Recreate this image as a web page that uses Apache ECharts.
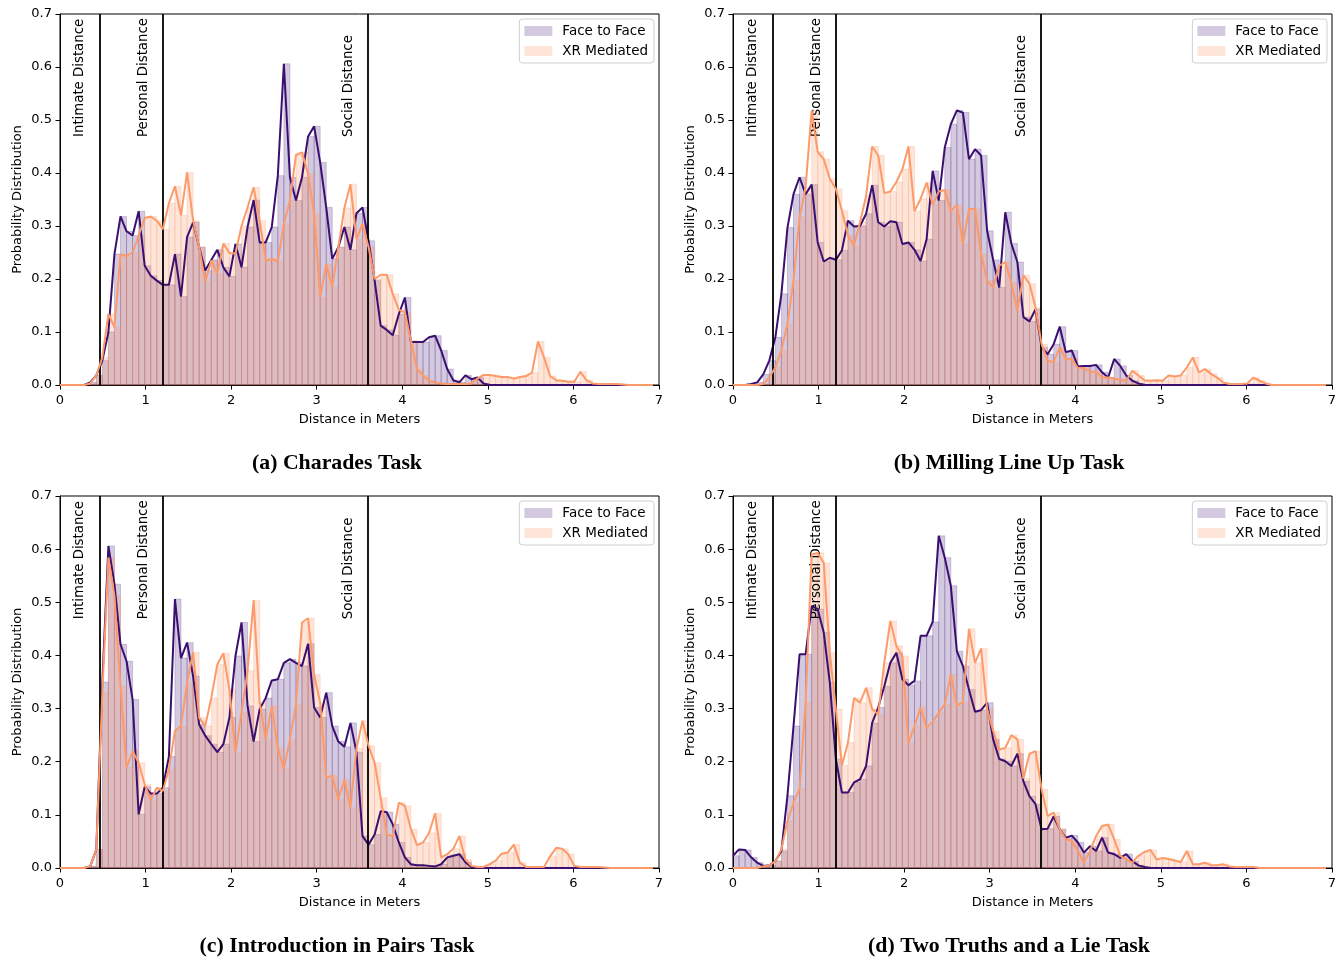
<!DOCTYPE html>
<html>
<head>
<meta charset="utf-8">
<script src="https://cdn.jsdelivr.net/npm/echarts@6/dist/echarts.min.js"></script>
<style>
html,body{margin:0;padding:0;background:#fff;}
#chart{width:1343px;height:960px;}
</style>
</head>
<body>
<div id="chart"></div>
<script>
// ---------------- data ----------------
const BIN_WIDTH = 7 / 99;            // histogram bin width (m)
const X_TICKS = [0, 1, 2, 3, 4, 5, 6, 7];
const Y_TICKS = [0.0, 0.1, 0.2, 0.3, 0.4, 0.5, 0.6, 0.7];
const ZONES = [0.46, 1.2, 3.6];
const ZONE_NAMES = ['Intimate Distance', 'Personal Distance', 'Social Distance'];
const SERIES_NAMES = ['Face to Face', 'XR Mediated'];
const TITLES = ['(a) Charades Task', '(b) Milling Line Up Task', '(c) Introduction in Pairs Task', '(d) Two Truths and a Lie Task'];

// values per bin (bin k starts at k * BIN_WIDTH)
const charadesF2F = [0,0,0,0,0,0.005,0.018,0.046,0.10,0.247,
  0.318,0.29,0.282,0.328,0.225,0.206,0.197,0.189,0.189,0.247,
  0.167,0.279,0.307,0.26,0.216,0.236,0.255,0.222,0.205,0.266,
  0.222,0.298,0.349,0.269,0.269,0.298,0.395,0.606,0.392,0.348,
  0.392,0.469,0.488,0.42,0.335,0.238,0.26,0.298,0.255,0.324,
  0.335,0.272,0.197,0.112,0.104,0.094,0.134,0.165,0.081,0.081,
  0.081,0.09,0.093,0.065,0.03,0.009,0.005,0.018,0.011,0.014,
  0.003,0,0,0,0,0,0,0,0,0,
  0,0,0,0,0,0,0,0,0,0,
  0,0,0,0,0,0,0,0,0];
const charadesXR = [0,0,0,0,0,0.003,0.018,0.052,0.134,0.109,
  0.247,0.243,0.25,0.282,0.315,0.318,0.31,0.294,0.343,0.375,
  0.32,0.401,0.31,0.26,0.195,0.235,0.21,0.267,0.249,0.248,
  0.30,0.335,0.373,0.31,0.235,0.238,0.233,0.304,0.348,0.434,
  0.439,0.398,0.323,0.165,0.228,0.185,0.26,0.334,0.379,0.275,
  0.304,0.26,0.2,0.208,0.208,0.172,0.142,0.137,0.084,0.03,
  0.018,0.008,0.005,0.003,0.002,0.002,0.002,0.002,0.003,0.012,
  0.019,0.019,0.017,0.015,0.015,0.012,0.015,0.017,0.023,0.082,
  0.052,0.017,0.009,0.008,0.006,0.006,0.025,0.009,0.003,0.002,
  0.002,0.002,0.002,0.001,0,0,0,0,0];
const millingF2F = [0,0,0,0.002,0.005,0.02,0.046,0.09,0.172,0.297,
  0.36,0.392,0.36,0.378,0.269,0.233,0.24,0.236,0.254,0.31,
  0.299,0.3,0.323,0.377,0.307,0.299,0.309,0.307,0.266,0.269,
  0.255,0.234,0.275,0.404,0.348,0.448,0.492,0.518,0.514,0.426,
  0.445,0.433,0.291,0.236,0.184,0.326,0.267,0.232,0.128,0.12,
  0.143,0.071,0.058,0.077,0.11,0.062,0.065,0.035,0.036,0.036,
  0.038,0.024,0.014,0.049,0.036,0.018,0.008,0.003,0,0,
  0,0,0,0,0,0,0,0,0,0,
  0,0,0,0,0,0,0,0,0,0,
  0,0,0,0,0,0,0,0,0];
const millingXR = [0,0,0,0,0,0.002,0.014,0.033,0.065,0.115,
  0.197,0.317,0.373,0.518,0.44,0.426,0.389,0.37,0.329,0.282,
  0.263,0.307,0.357,0.45,0.433,0.362,0.365,0.383,0.407,0.45,
  0.328,0.351,0.382,0.34,0.365,0.368,0.328,0.34,0.266,0.332,
  0.332,0.247,0.197,0.184,0.225,0.232,0.193,0.141,0.207,0.191,
  0.146,0.077,0.046,0.043,0.071,0.049,0.049,0.032,0.032,0.025,
  0.025,0.014,0.014,0.012,0.01,0.008,0.027,0.018,0.009,0.008,
  0.009,0.008,0.018,0.016,0.018,0.033,0.052,0.024,0.03,0.021,
  0.014,0.005,0.002,0.002,0.002,0.003,0.014,0.008,0.003,0,
  0,0,0,0,0,0,0,0,0];
const pairsF2F = [0,0,0,0,0,0.003,0.035,0.35,0.606,0.534,
  0.421,0.389,0.317,0.101,0.153,0.14,0.14,0.151,0.21,0.506,
  0.395,0.424,0.361,0.27,0.249,0.233,0.218,0.233,0.283,0.399,
  0.462,0.305,0.238,0.299,0.32,0.353,0.355,0.386,0.393,0.386,
  0.38,0.422,0.302,0.283,0.33,0.267,0.238,0.228,0.273,0.218,
  0.06,0.044,0.063,0.107,0.105,0.082,0.048,0.02,0.007,0.005,
  0.005,0.004,0.003,0.007,0.02,0.023,0.026,0.011,0.002,0,
  0,0,0,0,0,0,0,0,0,0,
  0,0,0,0,0,0,0,0,0,0,
  0,0,0,0,0,0,0,0,0];
const pairsXR = [0,0,0,0,0,0.003,0.035,0.33,0.584,0.512,
  0.342,0.189,0.22,0.198,0.157,0.128,0.151,0.145,0.186,0.258,
  0.267,0.349,0.406,0.283,0.267,0.32,0.383,0.404,0.336,0.217,
  0.292,0.371,0.504,0.311,0.242,0.305,0.226,0.186,0.242,0.308,
  0.462,0.47,0.364,0.311,0.17,0.174,0.129,0.166,0.113,0.225,
  0.277,0.23,0.198,0.132,0.063,0.06,0.123,0.117,0.073,0.043,
  0.048,0.066,0.103,0.02,0.026,0.036,0.06,0.016,0.004,0.002,
  0.002,0.007,0.014,0.027,0.029,0.044,0.01,0.002,0.002,0.002,
  0.002,0.022,0.038,0.036,0.026,0.004,0.002,0.002,0.002,0.002,
  0.001,0,0,0,0,0,0,0,0];
const truthsF2F = [0.023,0.035,0.034,0.02,0.01,0.004,0.005,0.013,0.032,0.136,
  0.267,0.402,0.402,0.493,0.487,0.443,0.349,0.205,0.142,0.142,
  0.161,0.167,0.192,0.273,0.302,0.342,0.386,0.405,0.355,0.344,
  0.352,0.437,0.437,0.463,0.625,0.584,0.531,0.408,0.38,0.336,
  0.294,0.297,0.311,0.242,0.205,0.201,0.192,0.215,0.163,0.135,
  0.12,0.073,0.074,0.097,0.073,0.057,0.061,0.048,0.029,0.041,
  0.032,0.057,0.029,0.026,0.019,0.026,0.013,0.005,0.002,0,
  0,0,0,0,0,0,0,0,0,0,
  0,0,0,0,0,0,0,0,0,0,
  0,0,0,0,0,0,0,0,0];
const truthsXR = [0,0,0,0,0,0.003,0.005,0.013,0.035,0.088,
  0.123,0.149,0.311,0.59,0.593,0.574,0.405,0.299,0.193,0.236,
  0.32,0.311,0.339,0.299,0.289,0.386,0.465,0.418,0.399,0.235,
  0.267,0.302,0.264,0.275,0.292,0.308,0.364,0.306,0.312,0.45,
  0.386,0.413,0.299,0.258,0.223,0.226,0.25,0.242,0.168,0.215,
  0.22,0.148,0.098,0.104,0.073,0.054,0.051,0.032,0.01,0.032,
  0.06,0.079,0.082,0.054,0.023,0.016,0.01,0.023,0.03,0.034,
  0.016,0.019,0.017,0.014,0.011,0.032,0.007,0.007,0.01,0.005,
  0.005,0.007,0.003,0.002,0.002,0.002,0.002,0,0,0,
  0,0,0,0,0,0,0,0,0];

const PANELS = [
  { title: TITLES[0], f2f: charadesF2F, xr: charadesXR },
  { title: TITLES[1], f2f: millingF2F, xr: millingXR },
  { title: TITLES[2], f2f: pairsF2F, xr: pairsXR },
  { title: TITLES[3], f2f: truthsF2F, xr: truthsXR }
];

// ---------------- layout / style ----------------
const GRIDS = [
  { left: 60, top: 14, width: 599, height: 371 },
  { left: 733, top: 14, width: 599, height: 371 },
  { left: 60, top: 496, width: 599, height: 372 },
  { left: 733, top: 496, width: 599, height: 372 }
];
const TITLE_POS = [[337, 463], [1009, 463], [337, 946], [1009, 946]];
const LEGEND_POS = [{ right: 689, top: 19 }, { right: 16, top: 19 }, { right: 689, top: 501 }, { right: 16, top: 501 }];
const FONT = 'DejaVu Sans';
const PURPLE_LINE = '#3b0f70';
const ORANGE_LINE = '#fd9a69';
const PURPLE_FILL = 'rgba(59,15,112,0.22)';
const ORANGE_FILL = 'rgba(252,148,98,0.24)';
const ZONE_LABEL_Y = 0.468;
const ZONE_LABEL_SHIFT_PX = 19.5;

function barRender(fill) {
  return function (params, api) {
    const x0 = api.value(0), v = api.value(1);
    if (!(v > 0)) return null;
    const p0 = api.coord([x0, v]);
    const p1 = api.coord([x0 + BIN_WIDTH, 0]);
    return {
      type: 'rect',
      shape: { x: p0[0], y: p0[1], width: p1[0] - p0[0], height: p1[1] - p0[1] },
      style: { fill: fill, stroke: fill, lineWidth: 0.9 }
    };
  };
}

function zoneLabelRender(params, api) {
  const p = api.coord([api.value(0), ZONE_LABEL_Y]);
  return {
    type: 'text',
    x: p[0] - ZONE_LABEL_SHIFT_PX, y: p[1],
    rotation: Math.PI / 2,
    style: {
      text: ZONE_NAMES[params.dataIndex], fontFamily: FONT, fontSize: 13.3, fill: '#000',
      align: 'left', verticalAlign: 'middle'
    }
  };
}

const grid = [], xAxis = [], yAxis = [], series = [], legend = [], graphic = [];
PANELS.forEach(function (panel, i) {
  grid.push(Object.assign({ show: true, borderColor: '#000', borderWidth: 1, backgroundColor: 'transparent' }, GRIDS[i]));
  xAxis.push({
    gridIndex: i, type: 'value', min: X_TICKS[0], max: X_TICKS[X_TICKS.length - 1], interval: 1,
    name: 'Distance in Meters', nameLocation: 'middle', nameGap: 28,
    nameTextStyle: { fontFamily: FONT, fontSize: 13, color: '#000' },
    axisLine: { show: true, onZero: false, lineStyle: { color: '#000', width: 1 } },
    axisTick: { show: true, inside: false, length: 4.5, lineStyle: { color: '#000', width: 1 } },
    axisLabel: { fontFamily: FONT, fontSize: 13, color: '#000', margin: 9 },
    splitLine: { show: false }
  });
  yAxis.push({
    gridIndex: i, type: 'value', min: Y_TICKS[0], max: Y_TICKS[Y_TICKS.length - 1], interval: 0.1,
    name: 'Probability Distribution', nameLocation: 'middle', nameGap: 36,
    nameTextStyle: { fontFamily: FONT, fontSize: 13, color: '#000' },
    axisLine: { show: true, onZero: false, lineStyle: { color: '#000', width: 1 } },
    axisTick: { show: true, inside: false, length: 4.5, lineStyle: { color: '#000', width: 1 } },
    axisLabel: { fontFamily: FONT, fontSize: 13, color: '#000', margin: 8, formatter: function (v) { return v.toFixed(1); } },
    splitLine: { show: false }
  });
  const f2fData = panel.f2f.map(function (v, k) { return [k * BIN_WIDTH, v]; });
  const xrData = panel.xr.map(function (v, k) { return [k * BIN_WIDTH, v]; });
  series.push({
    type: 'custom', name: SERIES_NAMES[0], xAxisIndex: i, yAxisIndex: i, z: 1,
    itemStyle: { color: PURPLE_FILL }, renderItem: barRender(PURPLE_FILL),
    encode: { x: 0, y: 1 }, data: f2fData, silent: true
  });
  series.push({
    type: 'custom', name: SERIES_NAMES[1], xAxisIndex: i, yAxisIndex: i, z: 2,
    itemStyle: { color: ORANGE_FILL }, renderItem: barRender(ORANGE_FILL),
    encode: { x: 0, y: 1 }, data: xrData, silent: true
  });
  series.push({
    type: 'custom', name: 'zones', xAxisIndex: i, yAxisIndex: i, z: 3, silent: true,
    renderItem: zoneLabelRender, encode: { x: 0, y: 1 },
    data: ZONES.map(function (z) { return [z, ZONE_LABEL_Y]; }),
    markLine: {
      silent: true, symbol: ['none', 'none'], label: { show: false },
      lineStyle: { color: '#000', width: 1.8, type: 'solid' },
      data: ZONES.map(function (z) { return { xAxis: z }; })
    }
  });
  series.push({
    type: 'line', name: 'f2f-line', xAxisIndex: i, yAxisIndex: i, z: 4, silent: true,
    showSymbol: false, data: f2fData, lineStyle: { color: PURPLE_LINE, width: 2 }, itemStyle: { color: PURPLE_LINE }
  });
  series.push({
    type: 'line', name: 'xr-line', xAxisIndex: i, yAxisIndex: i, z: 5, silent: true,
    showSymbol: false, data: xrData, lineStyle: { color: ORANGE_LINE, width: 2 }, itemStyle: { color: ORANGE_LINE }
  });
  legend.push(Object.assign({
    orient: 'vertical', data: SERIES_NAMES.slice(), icon: 'rect', itemWidth: 28, itemHeight: 10, itemGap: 6,
    textStyle: { fontFamily: FONT, fontSize: 13.5, color: '#000', padding: [0, 0, 0, 5] },
    borderColor: '#d0d0d0', borderWidth: 1, borderRadius: 3, padding: [5, 6, 5, 5],
    backgroundColor: 'rgba(255,255,255,0.85)', selectedMode: false
  }, LEGEND_POS[i]));
  graphic.push({
    type: 'text', x: TITLE_POS[i][0], y: TITLE_POS[i][1], silent: true,
    style: { text: panel.title, fontFamily: 'Liberation Serif', fontWeight: 'bold', fontSize: 21.8, fill: '#000', align: 'center', verticalAlign: 'middle' }
  });
});

const chart = echarts.init(document.getElementById('chart'), null, { renderer: 'canvas' });
chart.setOption({
  animation: false,
  backgroundColor: '#fff',
  grid: grid, xAxis: xAxis, yAxis: yAxis, series: series, legend: legend, graphic: graphic
});
</script>
</body>
</html>
